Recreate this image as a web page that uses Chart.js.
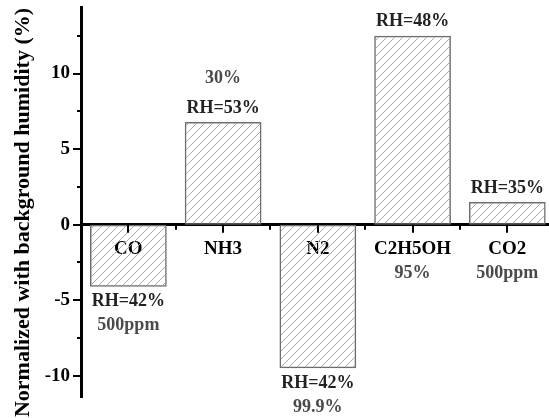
<!DOCTYPE html>
<html>
<head>
<meta charset="utf-8">
<script src="https://cdn.jsdelivr.net/npm/chart.js@4"></script>
<style>
  html, body { margin: 0; padding: 0; background: #fff; }
  #wrap { width: 549px; height: 418px; }
</style>
</head>
<body>
<div id="wrap"><canvas id="humidityChart"></canvas></div>
<script>
// data
const gases = ['CO', 'NH3', 'N2', 'C2H5OH', 'CO2'];
const normalized = [-4.1, 6.8, -9.5, 12.5, 1.5];
const rhLabels = ['RH=42%', 'RH=53%', 'RH=42%', 'RH=48%', 'RH=35%'];
const concLabels = ['500ppm', '30%', '99.9%', '95%', '500ppm'];
const yTickValues = [-10, -5, 0, 5, 10];
const yTitle = 'Normalized with background humidity (%)';

const serif = '"Liberation Serif", "Times New Roman", serif';

// diagonal hatch fill for the bars
function makeHatch() {
    let c = document.createElement('canvas');
    c.width = 8;
    c.height = 8;
    let g = c.getContext('2d');
    g.strokeStyle = '#a8a8a8';
    g.lineWidth = 1;
    g.beginPath();
    g.moveTo(0, 8); g.lineTo(8, 0);
    g.moveTo(-4, 4); g.lineTo(4, -4);
    g.moveTo(4, 12); g.lineTo(12, 4);
    g.stroke();
    return g.createPattern(c, 'repeat');
}

// tick marks: long ones on labelled values, short ones halfway
const tickMarks = {
    id: 'tickMarks',
    afterDraw(chart) {
        let ctx = chart.ctx;
        let x = chart.scales.x, y = chart.scales.y;
        let x0 = y.right;
        let y0 = y.getPixelForValue(0);
        ctx.save();
        ctx.strokeStyle = '#000';
        ctx.lineWidth = 2;
        ctx.beginPath();
        for (let v = -10; v <= y.max; v += 2.5) {
            let py = Math.round(y.getPixelForValue(v));
            let len = (v % 5 === 0) ? 8 : 4;
            ctx.moveTo(x0, py);
            ctx.lineTo(x0 - len, py);
        }
        for (let i = 0; i < gases.length; i++) {
            let px = Math.round(x.getPixelForValue(i + 1));
            ctx.moveTo(px, y0);
            ctx.lineTo(px, y0 + 8);
            let hx = Math.round(x.getPixelForValue(i + 1.5));
            if (hx < chart.chartArea.right) {
                ctx.moveTo(hx, y0);
                ctx.lineTo(hx, y0 + 5);
            }
        }
        ctx.stroke();
        ctx.restore();
    }
};

// RH and concentration notes next to each bar, plus the y title
const barNotes = {
    id: 'barNotes',
    afterDraw(chart) {
        let ctx = chart.ctx;
        let x = chart.scales.x, y = chart.scales.y;
        let y0 = y.getPixelForValue(0);
        let concSpot = ['under', 'over', 'under', 'axis', 'axis'];
        ctx.save();
        ctx.textAlign = 'center';
        ctx.textBaseline = 'middle';
        ctx.font = 'bold 18px ' + serif;
        for (let i = 0; i < gases.length; i++) {
            let px = x.getPixelForValue(i + 1);
            let end = y.getPixelForValue(normalized[i]);
            let rhY = normalized[i] >= 0 ? end - 14 : end + 15;
            ctx.fillStyle = '#222';
            ctx.fillText(rhLabels[i], px, rhY);
            let cy;
            if (concSpot[i] === 'under') cy = rhY + 24;
            else if (concSpot[i] === 'over') cy = rhY - 30;
            else cy = y0 + 49;
            ctx.fillStyle = '#4a4a4a';
            ctx.fillText(concLabels[i], px, cy);
        }
        // axis title, centred a little below the plot middle like the figure
        ctx.translate(y.left + 23, (chart.chartArea.top + chart.height) / 2);
        ctx.rotate(-Math.PI / 2);
        ctx.fillStyle = '#000';
        ctx.font = 'bold 22px ' + serif;
        ctx.fillText(yTitle, 0, 0);
        ctx.restore();
    }
};

let ctx = document.getElementById('humidityChart').getContext('2d');
let myChart = new Chart(ctx, {
    type: 'bar',
    data: {
        datasets: [{
            data: gases.map((g, i) => ({ x: i + 1, y: normalized[i] })),
            backgroundColor: makeHatch(),
            borderColor: '#6e6e6e',
            borderWidth: 1.5,
            borderSkipped: false,
            categoryPercentage: 1,
            barPercentage: 0.81
        }]
    },
    options: {
        responsive: true,
        maintainAspectRatio: false,
        animation: false,
        layout: { padding: { top: 7, bottom: 21, left: 0, right: 0 } },
        plugins: {
            legend: { display: false },
            tooltip: { enabled: false }
        },
        scales: {
            x: {
                type: 'linear',
                position: { y: 0 },
                offset: false,
                min: 0.5,
                max: 5.44,
                grid: { display: false, drawTicks: false },
                border: { display: true, color: '#000', width: 3 },
                ticks: {
                    stepSize: 1,
                    includeBounds: false,
                    padding: 13,
                    color: '#000',
                    font: { family: serif, size: 19, weight: 'bold' },
                    callback: function (value) {
                        return Number.isInteger(value) ? gases[value - 1] : null;
                    }
                }
            },
            y: {
                min: -11.4,
                max: 14.4,
                grid: { display: false, drawTicks: false },
                border: { display: true, color: '#000', width: 3 },
                afterFit: function (scale) {
                    scale.width = 81;
                    scale.paddingTop = 0;
                    scale.paddingBottom = 0;
                },
                afterBuildTicks: function (scale) {
                    scale.ticks = yTickValues.map(v => ({ value: v }));
                },
                ticks: {
                    padding: 11,
                    color: '#000',
                    font: { family: serif, size: 19, weight: 'bold' }
                }
            }
        }
    },
    plugins: [tickMarks, barNotes]
});
</script>
</body>
</html>
